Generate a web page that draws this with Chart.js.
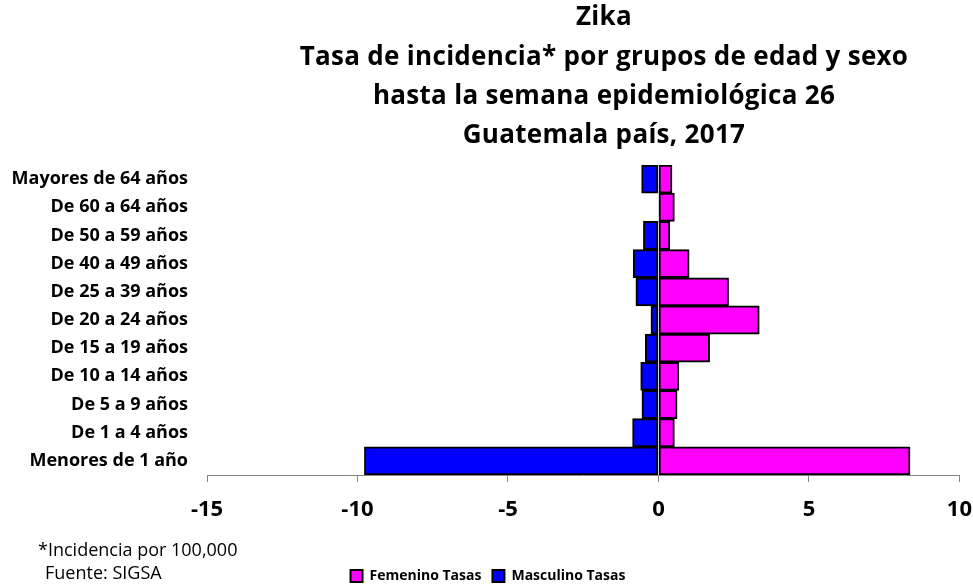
<!DOCTYPE html>
<html>
<head>
<meta charset="utf-8">
<script src="https://cdn.jsdelivr.net/npm/chart.js@4"></script>
<style>
  html, body { margin: 0; padding: 0; background: #fff; }
  #wrap { width: 973px; height: 588px; position: relative; }
</style>
</head>
<body>
<div id="wrap"><canvas id="chart" width="973" height="588"></canvas></div>
<script>
const categories = [
  'Mayores de 64 años', 'De 60 a 64 años', 'De 50 a 59 años', 'De 40 a 49 años',
  'De 25 a 39 años', 'De 20 a 24 años', 'De 15 a 19 años', 'De 10 a 14 años',
  'De 5 a 9 años', 'De 1 a 4 años', 'Menores de 1 año'
]
const femenino = [0.45, 0.53, 0.38, 1.02, 2.33, 3.35, 1.70, 0.68, 0.62, 0.53, 8.36]
const masculino = [-0.56, 0, -0.50, -0.84, -0.75, -0.25, -0.44, -0.59, -0.55, -0.86, -9.77]
const xTicks = [-15, -10, -5, 0, 5, 10]
const titleLines = ['Zika', 'Tasa de incidencia* por grupos de edad y sexo',
  'hasta la semana epidemiológica 26', 'Guatemala país, 2017']
const notes = ['*Incidencia por 100,000', 'Fuente: SIGSA']

const FONT = '"Open Sans", sans-serif'

const textPlugin = {
  id: 'texts',
  afterDraw(chart) {
    const ctx = chart.ctx
    ctx.save()
    ctx.fillStyle = '#000'
    ctx.textAlign = 'center'
    ctx.textBaseline = 'middle'
    ctx.font = 'bold 26px ' + FONT
    ctx.letterSpacing = '0.3px'
    const ys = [18, 58, 97, 136]
    titleLines.forEach((t, i) => ctx.fillText(t, 604, ys[i]))
    ctx.letterSpacing = '0px'
    ctx.textAlign = 'left'
    ctx.font = '18px ' + FONT
    ctx.fillText(notes[0], 38, 551)
    ctx.fillText(notes[1], 45, 574)
    ctx.restore()
  }
}

new Chart(document.getElementById('chart'), {
  type: 'bar',
  data: {
    labels: categories,
    datasets: [
      {
        label: 'Femenino Tasas',
        data: femenino,
        backgroundColor: '#ff00ff',
        borderColor: '#000',
        borderWidth: 2,
        borderSkipped: false,
        barPercentage: 1,
        categoryPercentage: 1,
      },
      {
        label: 'Masculino Tasas',
        data: masculino,
        backgroundColor: '#0000ff',
        borderColor: '#000',
        borderWidth: 2,
        borderSkipped: false,
        barPercentage: 1,
        categoryPercentage: 1,
      },
    ],
  },
  options: {
    indexAxis: 'y',
    responsive: false,
    animation: false,
    // negative right padding only nudges the bottom legend to the right
    layout: { padding: { top: 165, right: -3, left: 0, bottom: -5 } },
    plugins: {
      title: { display: false },
      tooltip: { enabled: false },
      legend: {
        position: 'bottom',
        labels: {
          color: '#000',
          font: { family: FONT, size: 14, weight: 'bold' },
          boxWidth: 12,
          boxHeight: 12,
          padding: 11,
        },
      },
    },
    scales: {
      x: {
        stacked: true,
        min: -15,
        max: 10,
        afterBuildTicks(axis) { axis.ticks = xTicks.map(v => ({ value: v })) },
        afterFit(axis) { axis.height = 83 },
        ticks: {
          color: '#000',
          font: { family: FONT, size: 22, weight: 'bold', lineHeight: 2.4 },
          padding: 1,
        },
        grid: { drawOnChartArea: false, drawTicks: true, tickLength: 7, color: '#868686' },
        border: { display: true, color: '#868686', width: 1 },
      },
      y: {
        stacked: true,
        afterFit(axis) { axis.width = 207 },
        ticks: {
          color: '#000',
          font: { family: FONT, size: 18, weight: 'bold' },
          padding: 19,
        },
        grid: { display: false, drawTicks: false },
        border: { display: false },
      },
    },
  },
  plugins: [textPlugin],
})
</script>
</body>
</html>
